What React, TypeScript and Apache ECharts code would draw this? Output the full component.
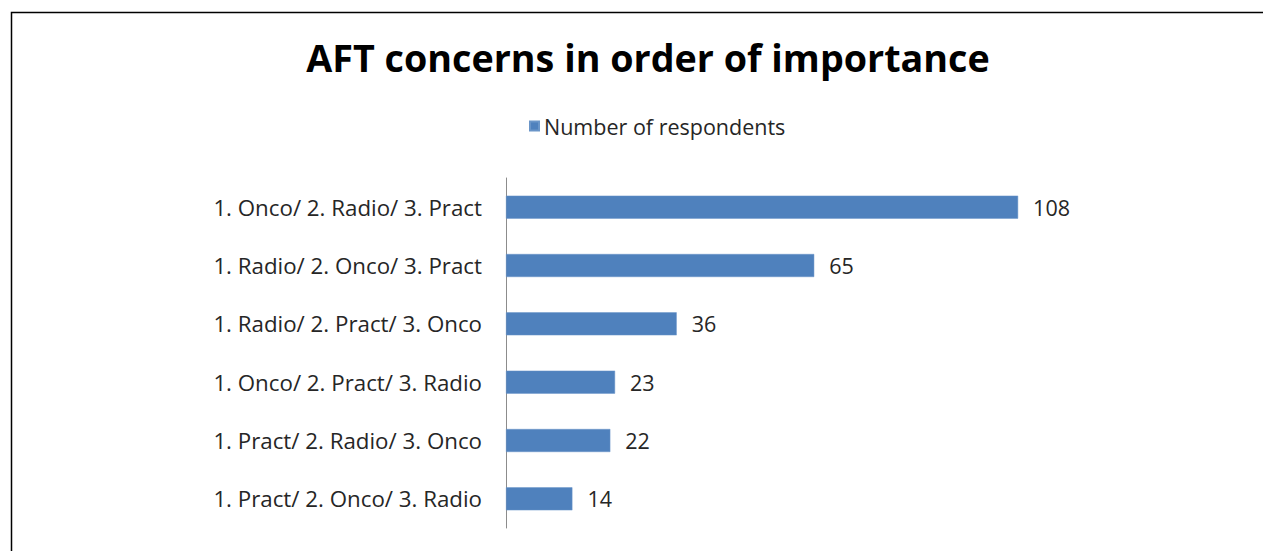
import React, { useEffect, useRef } from "react";
import * as echarts from "echarts";

const titleText = "AFT concerns in order of importance";
const seriesName = "Number of respondents";
const categories = [
  "1. Onco/ 2. Radio/ 3. Pract",
  "1. Radio/ 2. Onco/ 3. Pract",
  "1. Radio/ 2. Pract/ 3. Onco",
  "1. Onco/ 2. Pract/ 3. Radio",
  "1. Pract/ 2. Radio/ 3. Onco",
  "1. Pract/ 2. Onco/ 3. Radio",
];
const values = [108, 65, 36, 23, 22, 14];

const FONT = "'Open Sans', 'Noto Sans', sans-serif";

export default function App() {
  const ref = useRef<HTMLDivElement>(null);
  useEffect(() => {
    if (!ref.current) return;
    const chart = echarts.init(ref.current, null, { renderer: "svg" });
    chart.setOption({
      animation: false,
      backgroundColor: "#ffffff",
      title: {
        text: titleText,
        left: 643,
        textAlign: "center",
        top: 33,
        textStyle: { fontFamily: FONT, fontSize: 37.7, fontWeight: "bold", color: "#000000" },
      },
      legend: {
        data: [seriesName],
        left: 524,
        top: 110,
        itemWidth: 9,
        itemHeight: 9,
        icon: "rect",
        textStyle: { fontFamily: FONT, fontSize: 21.5, color: "#262626" },
      },
      graphic: [
        {
          type: "rect",
          shape: { x: 11.5, y: 12.5, width: 2000, height: 2000 },
          style: { fill: "none", stroke: "#000000", lineWidth: 1.5 },
          silent: true,
        },
      ],
      grid: { left: 506, top: 178, width: 569, height: 350, containLabel: false },
      xAxis: {
        type: "value",
        min: 0,
        max: 120,
        show: false,
        splitLine: { show: false },
      },
      yAxis: {
        type: "category",
        data: categories,
        inverse: true,
        axisLine: { show: true, lineStyle: { color: "#8c8c8c", width: 1 } },
        axisTick: { show: false },
        axisLabel: {
          margin: 24,
          fontFamily: FONT,
          fontSize: 22.3,
          color: "#262626",
        },
      },
      series: [
        {
          name: seriesName,
          type: "bar",
          data: values,
          barWidth: 23,
          itemStyle: { color: "#4f81bd", borderColor: "#6a95c8", borderWidth: 0.5 },
          label: {
            show: true,
            position: "right",
            distance: 15,
            fontFamily: FONT,
            fontSize: 21.5,
            color: "#262626",
          },
        },
      ],
    });
    return () => chart.dispose();
  }, []);
  return (
    <div
      ref={ref}
      style={{ position: "absolute", left: 0, top: 0, width: 1263, height: 551 }}
    />
  );
}
